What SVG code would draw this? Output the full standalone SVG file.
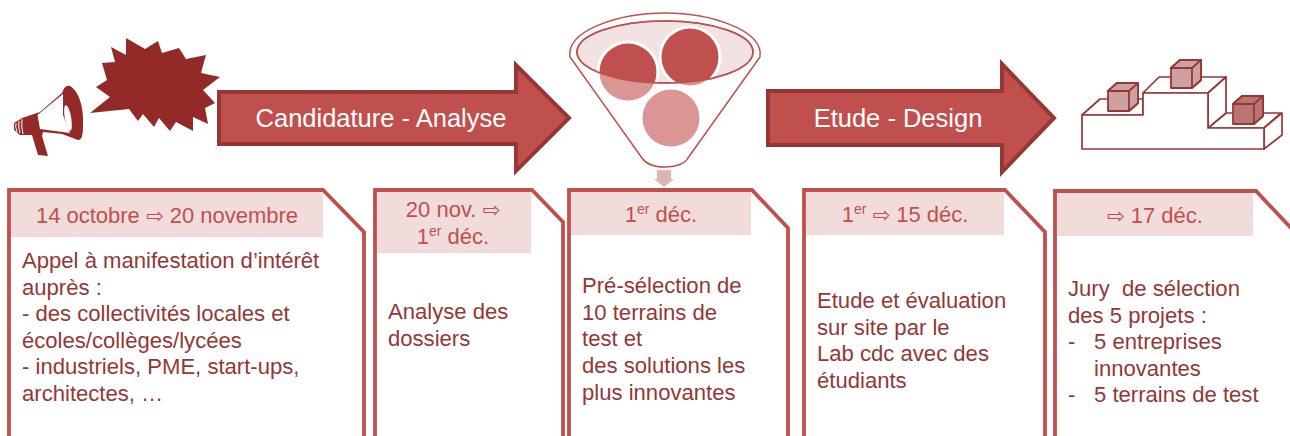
<svg xmlns="http://www.w3.org/2000/svg" width="1290" height="436" viewBox="0 0 1290 436">
<style>
text{font-family:"Liberation Sans",Arial,sans-serif;white-space:pre}
.card{fill:#fff;stroke:#C0504D;stroke-width:3.800;stroke-linejoin:miter}
.hd{fill:#F2DCDB}
.ht{font-size:22px;fill:#C0504D;text-anchor:middle}
.bt{font-size:22.100px;fill:#953735}
.ar{fill:#C0504D;stroke:#953735;stroke-width:4}
.at{font-size:25.500px;fill:#fff;text-anchor:middle}
.sym{font-family:"DejaVu Sans",sans-serif;font-size:21px}
.dk{fill:#942A27}
.pod{fill:#fff;stroke:#953735;stroke-width:1.700;stroke-linejoin:round}
.sup{font-size:14px}
</style>
<defs>
<g id="cube" stroke="#953735" stroke-width="1.800" stroke-linejoin="round"><path d="M0 8L9 0H30V20L21 28H0Z"/><path d="M0 8L9 0H30L21 8ZM21 8L30 0V20L21 28Z" fill-opacity=".85"/></g>
</defs>
<g id="connectors">
<path class="ar" d="M219 92H516V65L569 118L516 171V144H219Z"/>
<path class="ar" d="M768 91H1002V64L1054 118L1002 172V145H768Z"/>
<text class="at" x="381" y="127">Candidature - Analyse</text>
<text class="at" x="898" y="127">Etude - Design</text>
<path d="M657 170H671V179H674L664 187L654 179H657Z" fill="#E0B4B3"/>
</g>
<g id="megaphone">
<path class="dk" d="M14 123L22 118L40 112L62 93Q65 84 70 86C80 92 84 110 83 125C83 135 82 140 78 140L62 134L43 132L42 136L48 156L38 155L32 135L20 135L14 130Z"/>
<path fill="#fff" d="M37.500 115L63 94L63 115L70 133L40 129Z"/>
<ellipse cx="68" cy="118" rx="3.200" ry="13" transform="rotate(-10 68 118)" fill="#fff"/>
<path fill="none" stroke="#fff" stroke-width="1" d="M16 123Q15 127 17 132M19 121Q18 127 20 133M22 119Q21 127 23 134"/>
</g>
<g id="burst">
<path class="dk" d="M90 113L110 97L96 87L107 80L102 63L115 62L111 47L126 55L126 38L145 49L158 41L162 53L179 48L186 59L206 55L201 73L220 77L203 90L215 103L205 108L208 124L193 117L193 131L176 122L170 131L159 118L154 127L143 114L138 121L129 109Z"/>
</g>
<g id="funnel">
<path d="M570 57C566 30 620 13 665 13C710 13 764 30 760 57L688 158C685 164 675 167 665 167C653 167 646 164 642 158Z" fill="#fff" stroke="#C0504D" stroke-width="1.500"/>
<ellipse cx="665" cy="52" rx="88" ry="31" fill="#F2E2E2" stroke="#C0504D" stroke-width="1.500"/>
<circle cx="628" cy="72" r="28.500" fill="#D99694"/>
<circle cx="690" cy="57" r="28.500" fill="#D99694"/>
<circle cx="671" cy="118" r="28.500" fill="#D99694"/>
<clipPath id="rim"><ellipse cx="665" cy="52" rx="88" ry="31"/></clipPath>
<g clip-path="url(#rim)">
<circle cx="628" cy="72" r="31.500" fill="#fff"/>
<circle cx="690" cy="57" r="31.500" fill="#fff"/>
<circle cx="628" cy="72" r="28.500" fill="#C0504D"/>
<circle cx="690" cy="57" r="28.500" fill="#C0504D"/>
</g>
<ellipse cx="665" cy="52" rx="88" ry="31" fill="none" stroke="#C0504D" stroke-width="1.500"/>
</g>
<g id="podium">
<path class="pod" d="M1082 115L1100 99H1143V115ZM1143 93L1159 77H1226L1208 93ZM1208 128L1226 113H1281L1264 128Z"/>
<path class="pod" d="M1226 77V113L1208 128V93ZM1264 128L1282 113V135L1264 149Z"/>
<path class="pod" d="M1082 115H1143V93H1208V128H1264V149H1082Z"/>
<use href="#cube" x="1108" y="83" fill="#CFA0A0"/>
<use href="#cube" x="1171" y="60" fill="#CFA0A0"/>
<use href="#cube" x="1233" y="96" fill="#BC7473"/>
</g>
<g id="card1">
<path class="card" d="M9 436V190H323L364 232V436"/>
<rect class="hd" x="11" y="192" width="312" height="45"/>
<text class="ht" x="167" y="222.500">14 octobre <tspan class="sym">⇨</tspan> 20 novembre</text>
<text class="bt"><tspan x="22" y="268">Appel à manifestation d’intérêt</tspan><tspan x="22" y="294.500">auprès :</tspan><tspan x="22" y="321">- des collectivités locales et</tspan><tspan x="22" y="348">écoles/collèges/lycées</tspan><tspan x="22" y="374">- industriels, PME, start-ups,</tspan><tspan x="22" y="401">architectes, …</tspan></text>
</g>
<g id="card2">
<path class="card" d="M375 436V190H532L563 222V436"/>
<rect class="hd" x="377" y="192" width="154" height="61"/>
<text class="ht" x="453" y="217">20 nov. <tspan class="sym">⇨</tspan></text>
<text class="ht" x="453" y="244">1<tspan class="sup" dy="-8">er</tspan><tspan dy="8"> déc.</tspan></text>
<text class="bt"><tspan x="388" y="319">Analyse des</tspan><tspan x="388" y="346">dossiers</tspan></text>
</g>
<g id="card3">
<path class="card" d="M569 436V190H752L788 228V436"/>
<rect class="hd" x="571" y="192" width="180" height="43"/>
<text class="ht" x="661" y="221.500">1<tspan class="sup" dy="-8">er</tspan><tspan dy="8"> déc.</tspan></text>
<text class="bt"><tspan x="582" y="293">Pré-sélection de</tspan><tspan x="582" y="319.500">10 terrains de</tspan><tspan x="582" y="346">test et</tspan><tspan x="582" y="373">des solutions les</tspan><tspan x="582" y="399.500">plus innovantes</tspan></text>
</g>
<g id="card4">
<path class="card" d="M804 436V190H1005L1045 232V436"/>
<rect class="hd" x="806" y="192" width="198" height="43"/>
<text class="ht" x="905" y="221.500">1<tspan class="sup" dy="-8">er</tspan><tspan dy="8"> </tspan><tspan class="sym">⇨</tspan> 15 déc.</text>
<text class="bt"><tspan x="817" y="308">Etude et évaluation</tspan><tspan x="817" y="334.500">sur site par le</tspan><tspan x="817" y="361">Lab cdc avec des</tspan><tspan x="817" y="388">étudiants</tspan></text>
</g>
<g id="card5">
<path class="card" d="M1055 436V191H1256L1292 229"/>
<rect class="hd" x="1057" y="193" width="196" height="43"/>
<text class="ht" x="1155" y="222.500"><tspan class="sym">⇨</tspan> 17 déc.</text>
<text class="bt"><tspan x="1068" y="296">Jury  de sélection</tspan><tspan x="1068" y="322.500">des 5 projets :</tspan><tspan x="1068" y="349">-</tspan><tspan x="1094" y="349">5 entreprises</tspan><tspan x="1094" y="376">innovantes</tspan><tspan x="1068" y="402">-</tspan><tspan x="1094" y="402">5 terrains de test</tspan></text>
</g>
</svg>
